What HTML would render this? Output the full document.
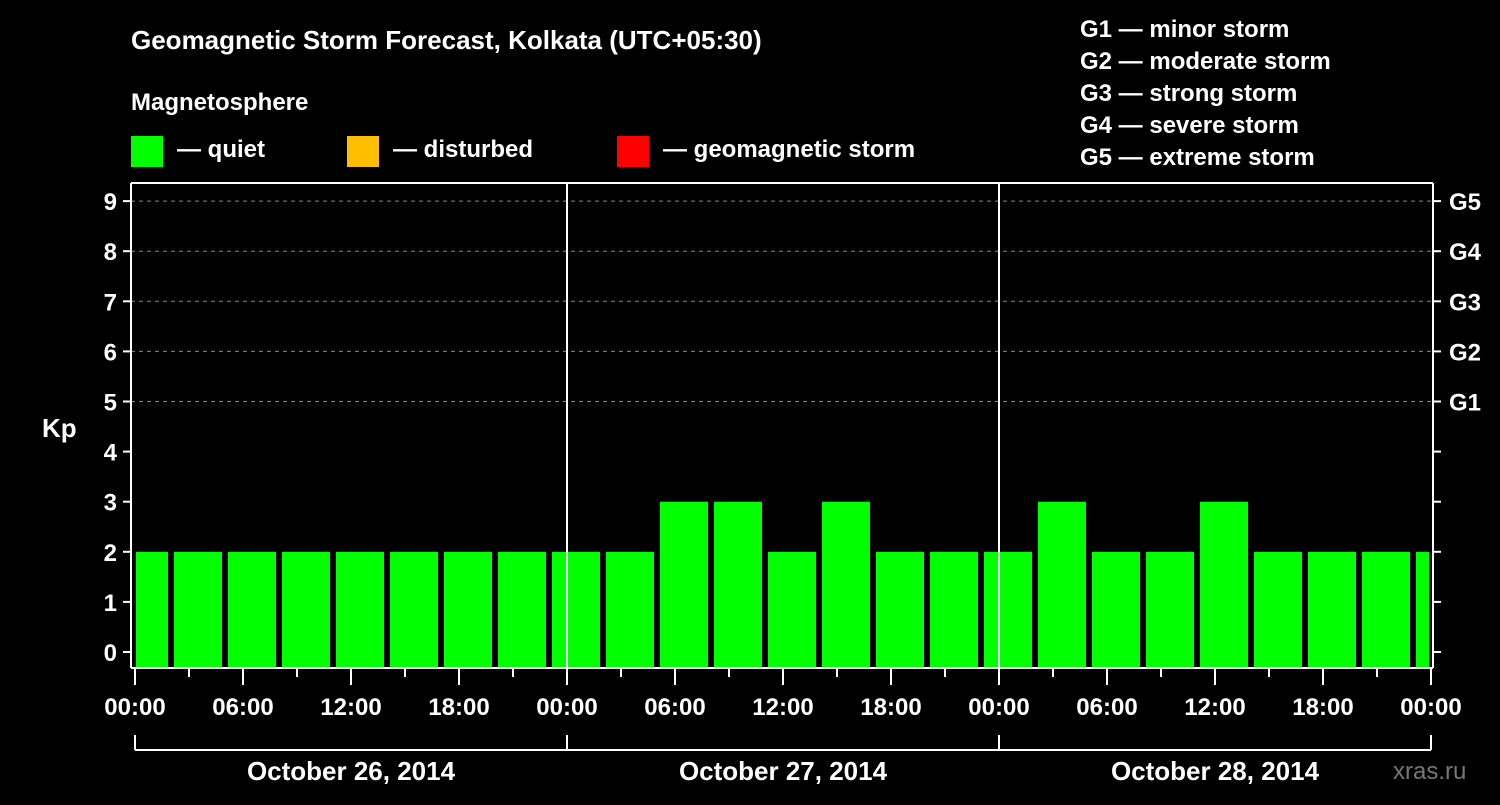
<!DOCTYPE html>
<html><head><meta charset="utf-8"><style>
body{margin:0;background:#000;width:1500px;height:800px;overflow:hidden}
svg text{font-family:"Liberation Sans",sans-serif;font-weight:bold;fill:#fff}
</style></head><body>
<svg id="chart" width="1500" height="800" xmlns="http://www.w3.org/2000/svg">
<text x="131" y="49" font-size="26">Geomagnetic Storm Forecast, Kolkata (UTC+05:30)</text>
<text x="131" y="110" font-size="24">Magnetosphere</text>
<g>
<rect x="131" y="136" width="32" height="31" fill="#00ff00"/>
<text x="177" y="157" font-size="24">— quiet</text>
<rect x="347" y="136" width="32" height="31" fill="#ffbf00"/>
<text x="393" y="157" font-size="24">— disturbed</text>
<rect x="617" y="136" width="32" height="31" fill="#ff0000"/>
<text x="663" y="157" font-size="24">— geomagnetic storm</text>
</g>
<g font-size="24">
<text x="1080" y="37">G1 — minor storm</text>
<text x="1080" y="69">G2 — moderate storm</text>
<text x="1080" y="101">G3 — strong storm</text>
<text x="1080" y="133">G4 — severe storm</text>
<text x="1080" y="165">G5 — extreme storm</text>
</g>
<text x="42" y="437" font-size="26">Kp</text>
<text x="1393" y="779" font-size="24" fill="#777" style="fill:#777;font-weight:normal">xras.ru</text>
<g id="grid"></g><g id="bars"></g><g id="axes"></g>
</svg>
<script>
const kpValues=[2,2,2,2,2,2,2,2,2,2,3,3,2,3,2,2,2,3,2,2,3,2,2,2,2];
const yTicks=[0,1,2,3,4,5,6,7,8,9];
const gLabels=["G1","G2","G3","G4","G5"];
const xTickLabels=["00:00","06:00","12:00","18:00","00:00","06:00","12:00","18:00","00:00","06:00","12:00","18:00","00:00"];
const dayLabels=["October 26, 2014","October 27, 2014","October 28, 2014"];
const NS="http://www.w3.org/2000/svg";
const L=131,R=1433,T=183,B=668,X0=135,HOUR=18;
const y=v=>652-v*50.1;
const x=h=>X0+h*HOUR;
function mk(parent,tag,attrs,text){const e=document.createElementNS(NS,tag);for(const k in attrs)e.setAttribute(k,attrs[k]);if(text!==undefined)e.textContent=text;document.getElementById(parent).appendChild(e);return e;}
const grid=document.getElementById('grid');
yTicks.forEach(v=>{if(v>=5){const l=mk('grid','line',{x1:L,x2:R,y1:y(v),y2:y(v),stroke:'#888','stroke-dasharray':'4,4','stroke-width':1});

}});
kpValues.forEach((v,i)=>{const s=x(-0.8333+3*i),e=s+48;const x1=Math.max(s,X0+1),x2=Math.min(e,R-4);
const c=v>=5?'#ff0000':(v>=4?'#ffbf00':'#00ff00');
const r=mk('bars','rect',{x:x1,y:y(v),width:x2-x1,height:B-y(v),fill:c});

});
// axes
[[L,T,R,T],[L,T,L,B],[R,T,R,B],[L,B,R,B],[567,T,567,B],[999,T,999,B]].forEach((p,i)=>{const l=mk('axes','line',{x1:p[0],y1:p[1],x2:p[2],y2:p[3],stroke:'#fff','stroke-width':2});

});
yTicks.forEach(v=>{mk('axes','line',{x1:L-8,x2:L,y1:y(v),y2:y(v),stroke:'#fff','stroke-width':2});
mk('axes','line',{x1:R,x2:R+8,y1:y(v),y2:y(v),stroke:'#fff','stroke-width':2});
const t=mk('axes','text',{x:L-14,y:y(v)+9,'font-size':24,'text-anchor':'end'},String(v));

});
gLabels.forEach((g,i)=>{const t=mk('axes','text',{x:1449,y:y(5+i)+9,'font-size':24},g);

});
for(let h=0;h<=72;h+=3){const major=h%6===0;mk('axes','line',{x1:x(h),x2:x(h),y1:B,y2:major?685:677,stroke:'#fff','stroke-width':2});}
xTickLabels.forEach((s,i)=>{const t=mk('axes','text',{x:x(i*6),y:715,'font-size':24,'text-anchor':'middle'},s);

});
mk('axes','line',{x1:x(0),x2:x(72),y1:750,y2:750,stroke:'#fff','stroke-width':2});
for(let d=0;d<=3;d++)mk('axes','line',{x1:x(d*24),x2:x(d*24),y1:735,y2:750,stroke:'#fff','stroke-width':2});
dayLabels.forEach((s,i)=>{const t=mk('axes','text',{x:x(i*24+12),y:780,'font-size':26,'text-anchor':'middle'},s);

});
</script>
</body></html>
